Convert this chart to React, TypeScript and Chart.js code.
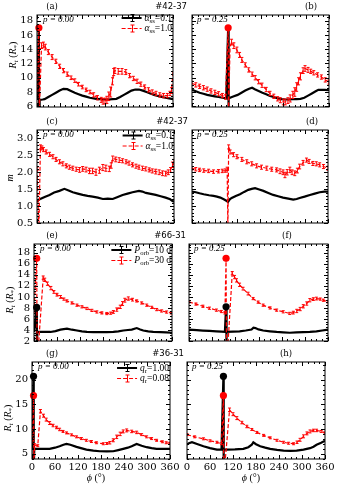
import React, { useEffect, useRef } from "react";
import { Chart, registerables } from "chart.js";
Chart.register(...registerables);

type P2 = [number, number];
type P3 = [number, number, number];

// ---------- tick labels ----------
const X_TICKS = [0, 60, 120, 180, 240, 300, 360];
const Y_TICKS_A = [6, 8, 10, 12, 14, 16, 18];
const Y_TICKS_C = [0.5, 1.0, 1.5, 2.0, 2.5, 3.0];
const Y_TICKS_E = [2, 4, 6, 8, 10, 12, 14, 16, 18];
const Y_TICKS_G = [5, 10, 15, 20];

// ---------- data: [phi(deg), value] / [phi, value, error] ----------
const aBlack: P2[] = [[0,6.9],[5,17],[5.5,5],[7,6.9],[15,6.95],[20,7.0],[30,7.3],[40,7.6],[50,7.9],[60,8.2],[70,8.45],[80,8.4],[90,8.15],[100,7.9],[110,7.7],[120,7.5],[130,7.35],[140,7.2],[150,7.1],[160,7.0],[170,7.0],[180,6.95],[190,6.95],[200,7.0],[210,7.05],[220,7.3],[230,7.6],[240,7.9],[250,8.2],[260,8.35],[270,8.35],[280,8.2],[290,8.0],[300,7.8],[310,7.6],[320,7.45],[330,7.3],[340,7.2],[350,7.1],[360,7.0]];
const aRed: P3[] = [[0,7.8,0],[5,17,0],[6,5,0],[12,14.5,0.4],[17,14.6,0.4],[22,14.3,0.4],[30,13.6,0.35],[40,12.9,0.35],[50,12.3,0.3],[60,11.6,0.3],[70,11.0,0.3],[80,10.5,0.3],[90,10.0,0.25],[100,9.6,0.25],[110,9.1,0.25],[120,8.7,0.25],[130,8.3,0.25],[140,8.0,0.25],[150,7.6,0.3],[160,7.2,0.3],[170,6.9,0.35],[175,6.7,0.4],[180,6.75,0.4],[185,6.9,0.5],[190,7.4,0.6],[195,8.0,0.7],[200,9.5,0.5],[203,10.8,0.5],[206,11.0,0.4],[215,10.9,0.4],[225,10.9,0.4],[235,10.8,0.35],[245,10.3,0.3],[255,9.9,0.3],[265,9.5,0.3],[275,9.1,0.3],[285,8.7,0.3],[295,8.3,0.3],[305,8.0,0.3],[315,7.8,0.3],[325,7.6,0.3],[335,7.5,0.3],[345,7.5,0.3],[352,7.8,0.3],[356,8.2,0.4],[360,10.8,0]];
const aRedDot: P2 = [5, 17];

const bBlack: P2[] = [[0,8.3],[10,8.1],[20,7.9],[30,7.75],[40,7.6],[50,7.5],[60,7.4],[70,7.3],[80,7.2],[90,7.1],[95,17],[95.5,5],[97,7.1],[100,7.2],[110,7.4],[120,7.6],[130,7.9],[140,8.2],[150,8.45],[158,8.6],[165,8.4],[175,8.15],[185,7.9],[195,7.7],[205,7.45],[215,7.3],[225,7.1],[235,7.0],[245,6.95],[255,6.95],[265,7.0],[275,7.0],[285,7.05],[295,7.2],[305,7.5],[315,7.8],[325,8.1],[332,8.3],[340,8.3],[350,8.3],[360,8.25]];
const bRed: P3[] = [[0,9.2,0.3],[10,9.0,0.3],[20,8.8,0.3],[30,8.6,0.3],[40,8.4,0.3],[50,8.15,0.3],[60,7.95,0.3],[70,7.75,0.3],[80,7.5,0.3],[88,7.3,0.3],[95,17,0],[96,5,0],[100,14.3,0],[104,15.0,0.4],[110,14.5,0.4],[118,13.9,0.4],[125,13.2,0.35],[131,12.5,0.35],[140,11.8,0.3],[149,11.1,0.3],[158,10.5,0.3],[166,10.0,0.3],[175,9.45,0.3],[184,8.95,0.3],[195,8.35,0.3],[205,7.8,0.3],[215,7.4,0.3],[225,7.05,0.3],[232,6.85,0.35],[240,6.6,0.4],[245,6.6,0.4],[252,6.8,0.4],[258,7.1,0.5],[265,7.6,0.5],[270,8.0,0.6],[275,8.7,0.6],[280,9.5,0.5],[285,10.2,0.5],[292,11.0,0.4],[297,11.3,0.4],[305,11.1,0.35],[312,10.9,0.3],[320,10.7,0.3],[330,10.4,0.3],[340,10.1,0.3],[350,9.7,0.3],[360,9.4,0.3]];
const bRedDot: P2 = [95, 17];

const cBlack: P2[] = [[0,1.13],[5,1.19],[10,1.22],[20,1.27],[33,1.33],[45,1.4],[59,1.45],[72,1.51],[83,1.46],[94,1.41],[107,1.37],[120,1.33],[133,1.3],[146,1.28],[160,1.25],[173,1.21],[186,1.22],[199,1.21],[212,1.27],[225,1.33],[238,1.37],[251,1.41],[268,1.45],[277,1.43],[286,1.39],[299,1.36],[312,1.33],[325,1.29],[338,1.25],[350,1.2],[356,1.15],[360,1.13]];
const cRed: P3[] = [[0,2.1,0.05],[5,0.3,0],[9,2.75,0.06],[13,2.72,0.06],[17,2.67,0.06],[24,2.6,0.06],[33,2.53,0.06],[42,2.46,0.06],[50,2.38,0.06],[59,2.31,0.06],[68,2.25,0.06],[77,2.19,0.06],[85,2.15,0.06],[94,2.12,0.06],[103,2.09,0.06],[112,2.07,0.07],[120,2.1,0.07],[129,2.08,0.07],[138,2.04,0.08],[146,2.04,0.08],[155,2.0,0.09],[164,2.06,0.09],[173,2.14,0.09],[181,2.12,0.09],[190,2.1,0.08],[195,2.2,0.08],[199,2.41,0.07],[207,2.38,0.07],[216,2.36,0.07],[225,2.34,0.06],[234,2.31,0.06],[242,2.27,0.06],[251,2.22,0.06],[260,2.18,0.06],[268,2.15,0.06],[277,2.12,0.06],[286,2.1,0.06],[295,2.07,0.06],[303,2.04,0.06],[312,2.02,0.07],[321,2.0,0.07],[330,1.97,0.07],[338,1.96,0.07],[345,2.0,0.07],[351,2.07,0.07],[356,2.22,0.08],[360,2.3,0.08]];

const dBlack: P2[] = [[0,1.43],[10,1.41],[20,1.38],[31,1.35],[45,1.32],[57,1.3],[66,1.28],[75,1.25],[84,1.2],[92,1.15],[95,1.12],[100,1.2],[105,1.24],[116,1.3],[127,1.35],[138,1.42],[149,1.48],[158,1.51],[167,1.53],[178,1.49],[189,1.45],[202,1.39],[215,1.33],[228,1.29],[241,1.25],[255,1.22],[268,1.19],[277,1.21],[285,1.24],[298,1.28],[312,1.33],[325,1.37],[338,1.41],[350,1.43],[360,1.43]];
const dRed: P3[] = [[0,2.12,0.05],[10,2.09,0.05],[20,2.07,0.05],[31,2.05,0.05],[44,2.04,0.05],[57,2.02,0.05],[70,2.03,0.05],[80,2.04,0.05],[88,2.05,0.05],[93,2.1,0.05],[95,0.3,0],[97,2.75,0.06],[101,2.6,0.06],[110,2.52,0.06],[119,2.46,0.06],[132,2.38,0.06],[145,2.31,0.06],[158,2.25,0.06],[171,2.19,0.06],[184,2.15,0.06],[198,2.12,0.06],[211,2.09,0.06],[224,2.07,0.06],[233,2.03,0.07],[241,2.0,0.07],[246,1.92,0.08],[252,2.0,0.08],[259,2.07,0.08],[265,2.0,0.07],[272,1.97,0.07],[279,2.05,0.07],[285,2.17,0.07],[294,2.28,0.07],[303,2.36,0.06],[310,2.32,0.06],[320,2.26,0.06],[329,2.25,0.06],[338,2.22,0.06],[348,2.17,0.06],[360,2.12,0.06]];

const eBlack: P2[] = [[0,3.65],[7,8.1],[7.5,1.5],[9,3.65],[20,3.64],[43,3.64],[56,3.8],[69,4.07],[86,4.25],[99,4.05],[112,3.9],[125,3.75],[138,3.64],[155,3.62],[173,3.6],[190,3.6],[207,3.64],[220,3.75],[233,3.9],[245,4.0],[255,4.07],[268,4.35],[277,4.1],[285,3.9],[298,3.75],[311,3.64],[330,3.6],[345,3.55],[360,3.5]];
const eRed: P3[] = [[0,7.1,0],[7,17,0],[8,1.5,0],[12,1.5,0],[24,13.5,0.3],[28,13.1,0.3],[35,12.4,0.3],[44,11.6,0.3],[52,10.9,0.25],[60,10.4,0.25],[69,10.0,0.25],[78,9.6,0.2],[86,9.27,0.2],[99,8.9,0.2],[112,8.5,0.2],[125,8.2,0.2],[138,7.9,0.2],[151,7.55,0.2],[164,7.27,0.2],[177,7.1,0.2],[190,6.98,0.2],[200,7.05,0.2],[207,7.27,0.25],[216,7.7,0.3],[225,8.2,0.3],[231,8.8,0.35],[237,9.4,0.35],[246,9.7,0.3],[257,9.5,0.25],[268,9.27,0.2],[281,8.9,0.2],[294,8.5,0.2],[307,8.1,0.2],[320,7.7,0.2],[333,7.45,0.2],[346,7.25,0.2],[358,7.1,0.2],[360,7.1,0]];
const eRedDot: P2 = [7, 17];
const eBlackDot: P2 = [7, 8.1];

const fBlack: P2[] = [[0,4.07],[20,3.97],[36,3.9],[53,3.82],[71,3.76],[84,3.7],[93,3.65],[96,8.2],[96.5,1.5],[98,3.64],[114,3.7],[131,3.76],[147,3.9],[162,4.07],[167,4.4],[172,4.35],[180,4.1],[192,3.9],[210,3.76],[227,3.64],[244,3.57],[261,3.5],[278,3.55],[296,3.6],[313,3.64],[330,3.75],[345,3.9],[360,4.07]];
const fRed: P3[] = [[0,9.1,0.2],[18,8.7,0.2],[36,8.3,0.2],[53,7.95,0.2],[71,7.6,0.2],[84,7.35,0.2],[93,7.1,0.2],[96,17,0],[97,1.5,0],[101,1.5,0],[112,14.3,0.3],[118,13.6,0.3],[123,13.0,0.3],[131,12.2,0.3],[140,11.5,0.25],[153,10.6,0.25],[166,9.7,0.2],[179,9.05,0.2],[192,8.5,0.2],[210,8.0,0.2],[227,7.6,0.2],[244,7.3,0.2],[261,7.0,0.2],[270,7.15,0.25],[279,7.45,0.3],[288,7.8,0.3],[296,8.3,0.3],[305,8.8,0.3],[313,9.4,0.3],[322,9.6,0.25],[330,9.7,0.25],[340,9.6,0.2],[348,9.4,0.2],[360,9.1,0.2]];
const fRedDot: P2 = [96, 17];
const fBlackDot: P2 = [96, 8.2];

const gBlack: P2[] = [[0,5.95],[4,20.7],[4.5,2],[6,5.95],[20,5.95],[46,5.95],[60,6.2],[72,6.5],[82,6.8],[90,6.97],[100,6.8],[116,6.36],[130,6.05],[142,5.8],[160,5.6],[177,5.47],[195,5.45],[212,5.47],[225,5.7],[238,5.95],[250,6.2],[260,6.5],[273,6.97],[286,6.6],[299,6.3],[312,6.1],[325,5.95],[345,5.95],[360,5.95]];
const gRed: P3[] = [[0,7.1,0],[4,16.8,0],[5,2,0],[7,6.8,0.2],[15,6.6,0.2],[22,13.6,0.35],[30,12.7,0.3],[37,11.9,0.3],[46,11.2,0.3],[55,10.7,0.25],[64,10.3,0.25],[72,9.9,0.25],[81,9.5,0.2],[90,9.2,0.2],[103,8.8,0.2],[116,8.4,0.2],[129,8.05,0.2],[142,7.7,0.2],[155,7.45,0.2],[168,7.2,0.2],[186,7.0,0.2],[195,7.05,0.2],[203,7.2,0.25],[212,7.7,0.3],[221,8.4,0.35],[230,9.0,0.35],[238,9.5,0.3],[247,9.7,0.3],[260,9.5,0.25],[273,9.3,0.25],[286,8.85,0.2],[299,8.4,0.2],[312,8.05,0.2],[325,7.7,0.2],[340,7.4,0.2],[350,7.2,0.2],[360,7.1,0.2]];
const gRedDot: P2 = [4, 16.8];
const gBlackDot: P2 = [4, 20.7];

const hBlack: P2[] = [[0,6.8],[5,7.1],[13,7.3],[28,6.9],[43,6.5],[60,6.1],[78,5.8],[90,5.8],[95,20.7],[95.5,2],[96,5.8],[104,5.8],[125,5.85],[147,5.95],[160,6.3],[169,6.8],[173,7.3],[180,6.9],[191,6.5],[204,6.2],[217,5.95],[235,5.75],[252,5.6],[270,5.55],[286,5.6],[304,5.8],[321,6.1],[330,6.4],[338,6.8],[350,7.2],[360,7.6]];
const hRed: P3[] = [[0,8.85,0.2],[20,8.4,0.2],[43,8.0,0.2],[60,7.6,0.2],[78,7.3,0.2],[90,7.0,0.2],[95,16.8,0],[96,2,0],[98,2,0],[111,13.9,0.35],[120,13.0,0.3],[130,12.2,0.3],[143,11.3,0.25],[156,10.5,0.25],[169,9.9,0.2],[182,9.3,0.2],[200,8.7,0.2],[217,8.2,0.2],[235,7.7,0.2],[252,7.3,0.2],[265,7.1,0.2],[278,7.0,0.2],[287,7.3,0.25],[295,7.8,0.3],[304,8.5,0.3],[313,9.1,0.3],[321,9.5,0.3],[330,9.7,0.25],[338,9.7,0.25],[350,9.5,0.2],[360,9.2,0.2]];
const hRedDot: P2 = [95, 16.8];
const hBlackDot: P2 = [95, 20.7];

// ---------- text labels ----------
const TAGS = ["(a)", "(b)", "(c)", "(d)", "(e)", "(f)", "(g)", "(h)"];
const IDS = ["#42-37", "#42-37", "#66-31", "#36-31"];
const P_LEFT = "p = 0.00";
const P_RIGHT = "p = 0.25";

type Seg = { t: string; it?: boolean; sub?: boolean };
const LEG_ALPHA: Seg[][] = [
  [{ t: "α", it: true }, { t: "ss", sub: true }, { t: "=0.1" }],
  [{ t: "α", it: true }, { t: "ss", sub: true }, { t: "=1.0" }],
];
const LEG_PORB: Seg[][] = [
  [{ t: "P", it: true }, { t: "orb", sub: true }, { t: "=10 d" }],
  [{ t: "P", it: true }, { t: "orb", sub: true }, { t: "=30 d" }],
];
const LEG_Q: Seg[][] = [
  [{ t: "q", it: true }, { t: "r", sub: true }, { t: "=1.00" }],
  [{ t: "q", it: true }, { t: "r", sub: true }, { t: "=0.08" }],
];
const TITLE_RT: Seg[] = [{ t: "R", it: true }, { t: "t", it: true, sub: true }, { t: " (" }, { t: "R", it: true }, { t: "*", sub: true }, { t: ")" }];
const TITLE_M: Seg[] = [{ t: "m", it: true }];
const TITLE_X: Seg[] = [{ t: "ϕ", it: true }, { t: " (°)" }];

// ---------- layout ----------
type Rect = { l: number; t: number; r: number; b: number };
interface Spec {
  rect: Rect;
  side: "L" | "R";
  yMin: number; yMax: number; yTicks: number[]; yMinor: number; yDec: number;
  xLabels: boolean;
  black: P2[]; red: P3[]; redDot?: P2; blackDot?: P2;
  tag: string; tagX: number; id?: string;
  pText: string;
  legend?: Seg[][]; legTop?: number;
  yTitle?: Seg[]; yTitleX?: number; yTitleY?: number;
}

const SERIF = '"DejaVu Serif", serif';
const MATH = '"Liberation Serif", "DejaVu Serif", serif';
const SANS = '"DejaVu Sans", sans-serif';

function segFont(s: Seg, size: number) {
  return `${s.it ? "italic " : ""}${s.sub ? size * 0.7 : size}px ${MATH}`;
}
function drawRich(ctx: CanvasRenderingContext2D, segs: Seg[], x: number, y: number, size: number, align: "left" | "right" | "center") {
  const ws = segs.map((s) => { ctx.font = segFont(s, size); return ctx.measureText(s.t).width; });
  const w = ws.reduce((a, b) => a + b, 0);
  let cx = align === "left" ? x : align === "right" ? x - w : x - w / 2;
  ctx.textAlign = "left";
  ctx.textBaseline = "middle";
  segs.forEach((s, i) => {
    ctx.font = segFont(s, size);
    ctx.fillText(s.t, cx, s.sub ? y + size * 0.3 : y);
    cx += ws[i];
  });
  return w;
}
function drawSample(ctx: CanvasRenderingContext2D, x0: number, x1: number, y: number, color: string, dashed: boolean) {
  ctx.save();
  ctx.strokeStyle = color;
  ctx.lineWidth = dashed ? 1.2 : 2;
  ctx.setLineDash(dashed ? [4, 2] : []);
  ctx.beginPath(); ctx.moveTo(x0, y); ctx.lineTo(x1, y); ctx.stroke();
  ctx.setLineDash([]);
  ctx.lineWidth = 1;
  const m = Math.round((x0 + x1) / 2) + 0.5;
  ctx.beginPath();
  ctx.moveTo(m, y - 3.5); ctx.lineTo(m, y + 3.5);
  ctx.moveTo(m - 2, y - 3.5); ctx.lineTo(m + 2, y - 3.5);
  ctx.moveTo(m - 2, y + 3.5); ctx.lineTo(m + 2, y + 3.5);
  ctx.stroke();
  ctx.restore();
}

function geometry(s: Spec) {
  const { l, t, r, b } = s.rect;
  const padT = 17;
  const padB = s.xLabels ? 27 : 4;
  const cx = s.side === "L" ? 0 : l - 6;
  const right = s.side === "L" ? r + 17 : r + 12;
  return { cx, cy: t - padT, cw: right - cx, ch: b - t + padT + padB, padL: l - cx, padT, padR: right - r, padB };
}

function makeDecor(s: Spec) {
  const g = geometry(s);
  return {
    id: "decor",
    afterDatasetsDraw(chart: any) {
      const { ctx, chartArea: a, scales } = chart;
      const x = scales.x, y = scales.y;
      ctx.save();
      ctx.beginPath(); ctx.rect(a.left, a.top, a.right - a.left, a.bottom - a.top); ctx.clip();
      ctx.strokeStyle = "#ff0000"; ctx.lineWidth = 1;
      ctx.beginPath();
      s.red.forEach(([p, v, e]) => {
        if (!e) return;
        const px = x.getPixelForValue(p);
        const y0 = y.getPixelForValue(v - e), y1 = y.getPixelForValue(v + e);
        ctx.moveTo(px, y0); ctx.lineTo(px, y1);
        ctx.moveTo(px - 1.5, y0); ctx.lineTo(px + 1.5, y0);
        ctx.moveTo(px - 1.5, y1); ctx.lineTo(px + 1.5, y1);
      });
      ctx.stroke();
      ctx.restore();
    },
    afterDraw(chart: any) {
      const { ctx, chartArea: a, scales } = chart;
      const x = scales.x, y = scales.y;
      ctx.save();
      ctx.strokeStyle = "#000"; ctx.fillStyle = "#000"; ctx.lineWidth = 1;
      ctx.strokeRect(a.left, a.top, a.right - a.left, a.bottom - a.top);
      ctx.beginPath();
      for (let v = 0; v <= 360 + 1e-6; v += 15) {
        const px = Math.round(x.getPixelForValue(v)) + 0.5;
        const len = X_TICKS.includes(v) ? 4 : 2;
        ctx.moveTo(px, a.bottom); ctx.lineTo(px, a.bottom - len);
        ctx.moveTo(px, a.top); ctx.lineTo(px, a.top + len);
      }
      const start = Math.ceil((s.yMin - 1e-9) / s.yMinor) * s.yMinor;
      for (let v = start; v <= s.yMax + 1e-9; v += s.yMinor) {
        const vv = Math.round(v / s.yMinor) * s.yMinor;
        const py = Math.round(y.getPixelForValue(vv)) + 0.5;
        const major = s.yTicks.some((t) => Math.abs(t - vv) < 1e-6);
        const len = major ? 4 : 2;
        ctx.moveTo(a.left, py); ctx.lineTo(a.left + len, py);
        ctx.moveTo(a.right, py); ctx.lineTo(a.right - len, py);
      }
      ctx.stroke();
      ctx.font = `10px ${SERIF}`;
      if (s.side === "L") {
        ctx.textAlign = "right"; ctx.textBaseline = "middle";
        s.yTicks.forEach((v) => ctx.fillText(v.toFixed(s.yDec), a.left - 4, y.getPixelForValue(v)));
      }
      if (s.xLabels) {
        ctx.textAlign = "center"; ctx.textBaseline = "top";
        X_TICKS.forEach((v) => ctx.fillText(String(v), x.getPixelForValue(v), a.bottom + 3));
        drawRich(ctx, TITLE_X, (a.left + a.right) / 2 - 5, a.bottom + 19, 10, "center");
      }
      ctx.font = `8.5px ${SERIF}`;
      ctx.textAlign = "center"; ctx.textBaseline = "middle";
      ctx.fillText(s.tag, s.tagX - g.cx, a.top - 8.5);
      if (s.id) {
        ctx.font = `8.5px ${SANS}`;
        ctx.textAlign = "right";
        ctx.fillText(s.id, a.right + 14, a.top - 8.5);
      }
      ctx.font = `italic 9px ${MATH}`;
      ctx.textAlign = "left"; ctx.textBaseline = "middle";
      ctx.fillText(s.pText, a.left + (s.side === "L" ? 6 : 5), a.top + 5);
      if (s.legend) {
        const y0 = a.top + (s.legTop ?? 5);
        const ys = [y0, y0 + 10.5];
        s.legend.forEach((segs, i) => {
          ctx.fillStyle = "#000";
          const w = drawRich(ctx, segs, a.right - 1, ys[i], 9.5, "right");
          const xe = a.right - 1 - w - 3;
          drawSample(ctx, xe - 20, xe, ys[i], i === 0 ? "#000" : "#ff0000", i === 1);
        });
      }
      if (s.yTitle) {
        ctx.save();
        ctx.translate((s.yTitleX ?? 12) - g.cx, (s.yTitleY ?? 0) - g.cy);
        ctx.rotate(-Math.PI / 2);
        ctx.fillStyle = "#000";
        drawRich(ctx, s.yTitle, 0, 0, 10, "center");
        ctx.restore();
      }
      ctx.restore();
    },
  };
}

function Panel({ spec }: { spec: Spec }) {
  const ref = useRef<HTMLCanvasElement>(null);
  const g = geometry(spec);
  useEffect(() => {
    const canvas = ref.current!;
    const datasets: any[] = [
      {
        data: spec.black.map(([x, y]) => ({ x, y })),
        borderColor: "#000", borderWidth: 2.2, pointRadius: 0, tension: 0, order: 3,
      },
      {
        data: spec.red.map(([x, y]) => ({ x, y })),
        borderColor: "#ff0000", borderWidth: 1.2, borderDash: [4, 2], pointRadius: 0, tension: 0, order: 2,
      },
    ];
    if (spec.blackDot) datasets.push({
      data: [{ x: spec.blackDot[0], y: spec.blackDot[1] }], showLine: false, pointRadius: 3.6,
      pointBackgroundColor: "#000", pointBorderColor: "#000", pointBorderWidth: 0, order: 1, clip: false,
    });
    if (spec.redDot) datasets.push({
      data: [{ x: spec.redDot[0], y: spec.redDot[1] }], showLine: false, pointRadius: 3.6,
      pointBackgroundColor: "#ff0000", pointBorderColor: "#ff0000", pointBorderWidth: 0, order: 0, clip: false,
    });
    const chart = new Chart(canvas, {
      type: "line",
      data: { datasets },
      options: {
        animation: false,
        responsive: false,
        maintainAspectRatio: false,
        devicePixelRatio: 1,
        events: [],
        layout: { padding: { left: g.padL, top: g.padT, right: g.padR, bottom: g.padB } },
        plugins: { legend: { display: false }, tooltip: { enabled: false } },
        scales: {
          x: { type: "linear", min: 0, max: 360, display: false },
          y: { type: "linear", min: spec.yMin, max: spec.yMax, display: false },
        },
      },
      plugins: [makeDecor(spec)],
    } as any);
    return () => chart.destroy();
  }, []);
  return (
    <canvas
      ref={ref}
      width={g.cw}
      height={g.ch}
      style={{ position: "absolute", left: g.cx, top: g.cy, width: g.cw, height: g.ch }}
    />
  );
}

const SPECS: Spec[] = [
  { rect: { l: 37, t: 15, r: 173, b: 107 }, side: "L", yMin: 5.9, yMax: 18.8, yTicks: Y_TICKS_A, yMinor: 0.5, yDec: 0, xLabels: false,
    black: aBlack, red: aRed, redDot: aRedDot, tag: TAGS[0], tagX: 52, id: IDS[0], pText: P_LEFT, legend: LEG_ALPHA, legTop: 3,
    yTitle: TITLE_RT, yTitleX: 13, yTitleY: 55 },
  { rect: { l: 192, t: 15, r: 329, b: 107 }, side: "R", yMin: 5.9, yMax: 18.8, yTicks: Y_TICKS_A, yMinor: 0.5, yDec: 0, xLabels: false,
    black: bBlack, red: bRed, redDot: bRedDot, tag: TAGS[1], tagX: 311, pText: P_RIGHT },
  { rect: { l: 37, t: 130, r: 174, b: 223 }, side: "L", yMin: 0.5, yMax: 3.25, yTicks: Y_TICKS_C, yMinor: 0.1, yDec: 1, xLabels: false,
    black: cBlack, red: cRed, tag: TAGS[2], tagX: 52, id: IDS[1], pText: P_LEFT, legend: LEG_ALPHA, legTop: 5.5,
    yTitle: TITLE_M, yTitleX: 10, yTitleY: 178 },
  { rect: { l: 192, t: 130, r: 328, b: 223 }, side: "R", yMin: 0.5, yMax: 3.25, yTicks: Y_TICKS_C, yMinor: 0.1, yDec: 1, xLabels: false,
    black: dBlack, red: dRed, tag: TAGS[3], tagX: 312, pText: P_RIGHT },
  { rect: { l: 34, t: 244, r: 172, b: 341 }, side: "L", yMin: 2, yMax: 19.6, yTicks: Y_TICKS_E, yMinor: 0.5, yDec: 0, xLabels: false,
    black: eBlack, red: eRed, redDot: eRedDot, blackDot: eBlackDot, tag: TAGS[4], tagX: 52, id: IDS[2], pText: P_LEFT, legend: LEG_PORB, legTop: 6,
    yTitle: TITLE_RT, yTitleX: 10, yTitleY: 300 },
  { rect: { l: 189, t: 244, r: 328, b: 341 }, side: "R", yMin: 2, yMax: 19.6, yTicks: Y_TICKS_E, yMinor: 0.5, yDec: 0, xLabels: false,
    black: fBlack, red: fRed, redDot: fRedDot, blackDot: fBlackDot, tag: TAGS[5], tagX: 287, pText: P_RIGHT },
  { rect: { l: 32, t: 362, r: 170, b: 459 }, side: "L", yMin: 3.9, yMax: 23.6, yTicks: Y_TICKS_G, yMinor: 1, yDec: 0, xLabels: true,
    black: gBlack, red: gRed, redDot: gRedDot, blackDot: gBlackDot, tag: TAGS[6], tagX: 52, id: IDS[3], pText: P_LEFT, legend: LEG_Q, legTop: 6,
    yTitle: TITLE_RT, yTitleX: 8, yTitleY: 418 },
  { rect: { l: 187, t: 362, r: 325, b: 459 }, side: "R", yMin: 3.9, yMax: 23.6, yTicks: Y_TICKS_G, yMinor: 1, yDec: 0, xLabels: true,
    black: hBlack, red: hRed, redDot: hRedDot, blackDot: hBlackDot, tag: TAGS[7], tagX: 286, pText: P_RIGHT },
];

export default function App() {
  return (
    <div style={{ position: "absolute", left: 0, top: 0, width: 338, height: 486, background: "#fff" }}>
      {SPECS.map((s, i) => <Panel key={i} spec={s} />)}
    </div>
  );
}
